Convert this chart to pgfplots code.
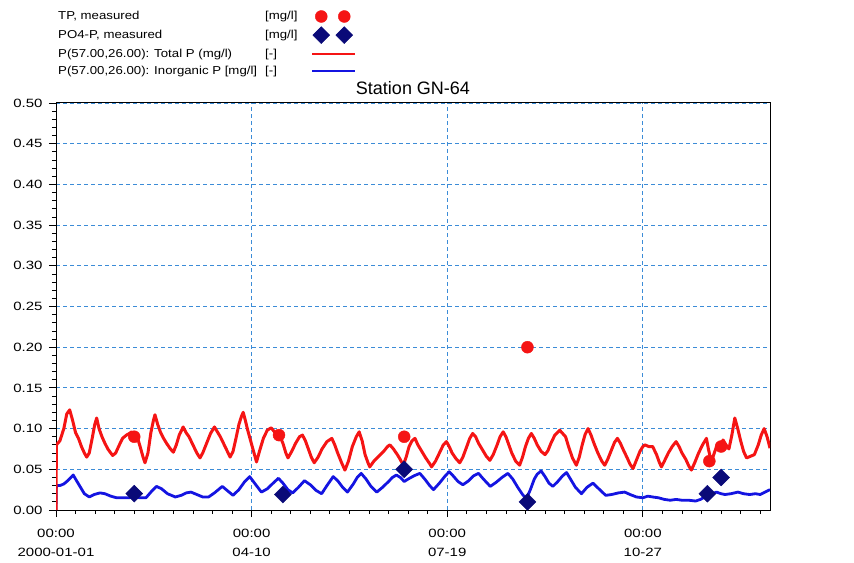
\documentclass[border=0pt]{standalone}
\usepackage{fontspec}
\setmainfont{Liberation Sans}
\newfontfamily\tickfamily[FakeStretch=1.25]{Liberation Sans}
\newfontfamily\legfamily[FakeStretch=1.15]{Liberation Sans}
\usepackage{pgfplots}
\pgfplotsset{compat=1.18}
\definecolor{gridblue}{RGB}{60,140,215}
\definecolor{tpred}{RGB}{245,20,20}
\definecolor{inblue}{RGB}{20,20,225}
\definecolor{navy}{RGB}{10,10,120}
\pgfplotsset{
  twomark legend/.style={legend image code/.code={\draw[##1] plot coordinates {(9bp,0bp) (32bp,0bp)};}},
  longline legend/.style={legend image code/.code={\draw[##1] (0bp,0bp) -- (43bp,0bp);}},
}
\begin{document}
\begin{tikzpicture}
\begin{axis}[
  at={(56bp,53bp)}, anchor=south west,
  scale only axis, width=714bp, height=407bp,
  xmin=0, xmax=365, ymin=0, ymax=0.5,
  xtick={0,100,200,300},
  xticklabels={{00:00\\2000-01-01},{00:00\\04-10},{00:00\\07-19},{00:00\\10-27}},
  minor xtick={10,20,...,360},
  ytick={0,0.05,0.1,0.15,0.2,0.25,0.3,0.35,0.4,0.45,0.5},
  minor y tick num=4,
  /pgf/number format/assume math mode=true,
  yticklabel style={/pgf/number format/fixed, /pgf/number format/fixed zerofill, /pgf/number format/precision=2,
    font=\tickfamily\fontsize{12bp}{14bp}\selectfont, xshift=-3bp},
  xticklabel style={align=center, font=\tickfamily\fontsize{12bp}{19bp}\selectfont, yshift=-9bp},
  tick align=outside, xtick pos=left, ytick pos=left,
  major tick length=7bp, minor tick length=4bp,
  tick style={black, line width=0.8bp},
  axis line style={black, line width=1bp},
  grid=major,
  major grid style={dash pattern=on 4bp off 3bp, color=gridblue, line width=0.8bp},
  title={Station GN-64},
  title style={font=\fontsize{18bp}{20bp}\selectfont, at={(0.5,1)}, anchor=base, yshift=3bp},
  legend plot pos=right, legend cell align=left,
  legend style={at={(0,1.23)}, anchor=north west, draw=none, fill=none,
    font=\legfamily\fontsize{11.5bp}{13bp}\selectfont, row sep=3.3bp, inner sep=0pt},
]
\addlegendimage{only marks, mark=*, mark size=6bp, color=tpred, twomark legend}
\addlegendentry{\makebox[207bp][l]{TP, measured}\makebox[44bp][l]{[mg/l]}}
\addlegendimage{only marks, mark=square*, mark size=6bp, mark options={rotate=45}, color=navy, twomark legend}
\addlegendentry{\makebox[207bp][l]{PO4-P, measured}\makebox[44bp][l]{[mg/l]}}
\addlegendimage{tpred, line width=2.2bp, longline legend}
\addlegendentry{\makebox[207bp][l]{P(57.00,26.00): Total P (mg/l)}\makebox[44bp][l]{[-]}}
\addlegendimage{inblue, line width=2.2bp, longline legend}
\addlegendentry{\makebox[207bp][l]{P(57.00,26.00): Inorganic P [mg/l]}\makebox[44bp][l]{[-]}}

% Inorganic P (model)
\addplot[forget plot, inblue, line width=2.8bp, line join=round] coordinates {
(0,0.000) (0.2,0.030) (2,0.030) (4,0.032) (6,0.036) (8.8,0.043) (10.5,0.036) (12.5,0.028)
(14.5,0.020) (17,0.016) (19.5,0.019) (22.5,0.021) (25,0.020) (28,0.017) (31,0.015) (34,0.015)
(37,0.015) (40,0.016) (43,0.015) (46,0.015) (48.5,0.022) (51.4,0.029) (54,0.026) (57,0.020)
(61,0.016) (64,0.018) (66.5,0.021) (69,0.022) (72,0.019) (75,0.016) (78,0.016) (81,0.021)
(85,0.029) (87.5,0.024) (90.5,0.018) (93.5,0.025) (96.5,0.035) (99,0.041) (101.5,0.033)
(105,0.022) (108,0.026) (111,0.033) (113.7,0.039) (116,0.033) (118.5,0.025) (121,0.021)
(124,0.028) (127,0.036) (130,0.031) (133,0.024) (135.8,0.020) (138.5,0.030) (141.7,0.041)
(144,0.036) (146.5,0.028) (149,0.022) (152,0.032) (154,0.040) (156,0.045) (158.5,0.038)
(161,0.029) (164,0.022) (167,0.028) (170,0.035) (172,0.040) (174,0.043) (176,0.040)
(178,0.035) (180,0.038) (183,0.042) (186,0.045) (188.5,0.038) (191,0.030) (193,0.025)
(196,0.033) (199,0.042) (201,0.047) (203,0.042) (205.5,0.035) (208,0.031) (211,0.036)
(213.5,0.042) (216,0.045) (218.5,0.038) (222,0.029) (225,0.034) (228,0.040) (231,0.045)
(233.5,0.038) (236,0.028) (238.5,0.019) (240.5,0.014) (242.5,0.025) (244.5,0.038)
(246,0.044) (248,0.048) (250,0.041) (252,0.033) (254,0.029) (256.5,0.035) (259,0.042)
(261,0.046) (263,0.038) (265.5,0.028) (268.6,0.020) (271.5,0.028) (274.5,0.033)
(277.5,0.026) (281,0.018) (284,0.019) (287.5,0.021) (290.7,0.022) (293.5,0.019)
(296.7,0.016) (300,0.015) (302.5,0.017) (305,0.016) (308,0.015) (311,0.013) (314,0.012)
(317,0.013) (320,0.012) (323.5,0.012) (327,0.011) (329.5,0.013) (331.6,0.016) (334.5,0.019)
(337.6,0.022) (340,0.020) (342,0.019) (345,0.020) (348.6,0.022) (351.5,0.020) (354.6,0.019)
(357.5,0.020) (360,0.019) (362.5,0.022) (365,0.025)
};

% Total P (model)
\addplot[forget plot, tpred, line width=3bp, line join=round] coordinates {
(0,0.000) (0.2,0.080) (2,0.085) (4,0.100) (5.5,0.118) (7,0.123) (8.5,0.110) (10,0.095)
(11.5,0.088) (13,0.078) (14.5,0.070) (15.7,0.065) (17,0.070) (18.5,0.088) (19.8,0.105)
(20.8,0.113) (22,0.100) (23.5,0.090) (25,0.082) (26.5,0.075) (28,0.070) (29,0.067)
(30.5,0.070) (32,0.078) (34,0.088) (36,0.092) (37.5,0.094) (38.7,0.096) (40,0.092)
(41.5,0.090) (43,0.078) (44.5,0.065) (45.5,0.058) (47,0.070) (48.5,0.095) (49.8,0.110)
(50.6,0.117) (52,0.105) (53.5,0.095) (55,0.088) (56.5,0.082) (58.5,0.075) (60,0.071)
(61.5,0.080) (63,0.092) (65,0.102) (66.5,0.095) (68,0.090) (70,0.080) (72,0.070)
(73.6,0.064) (75,0.070) (77,0.082) (79,0.094) (81,0.102) (82.5,0.096) (84,0.090)
(86,0.080) (88,0.070) (89,0.065) (90.5,0.072) (92,0.088) (93.5,0.105) (94.8,0.115)
(95.7,0.120) (96.8,0.110) (98,0.098) (99.5,0.085) (101,0.072) (102.5,0.059) (104,0.072)
(106,0.088) (108,0.098) (110,0.101) (112,0.095) (114,0.093) (116,0.082) (117.5,0.070)
(118.6,0.064) (120.5,0.072) (122.5,0.082) (124.5,0.090) (126,0.092) (127.5,0.085)
(129,0.075) (130.5,0.065) (132,0.058) (134,0.065) (136,0.075) (138.5,0.084) (141,0.088)
(142.5,0.080) (144,0.070) (146,0.058) (147.7,0.049) (149.5,0.060) (151.5,0.078)
(153.5,0.090) (155,0.096) (156.5,0.085) (158,0.068) (159.5,0.058) (160.4,0.053)
(162.5,0.060) (165,0.066) (167.5,0.072) (169.5,0.078) (170.7,0.080) (172.5,0.075)
(174.5,0.068) (176,0.062) (177.5,0.055) (179,0.065) (180.5,0.078) (182,0.085) (183.5,0.088)
(185,0.080) (187,0.072) (189,0.064) (191,0.057) (192,0.053) (194,0.060) (196,0.070)
(198,0.080) (199.6,0.084) (201,0.078) (202.5,0.070) (204.5,0.063) (206.4,0.058) (208,0.065)
(210,0.078) (211.5,0.088) (213,0.094) (214.5,0.090) (216,0.082) (218,0.074) (220,0.066)
(221.8,0.061) (223.5,0.068) (225.5,0.080) (227,0.090) (228.6,0.096) (230,0.090)
(231.5,0.080) (233,0.070) (235,0.060) (237,0.055) (238.5,0.065) (240,0.078) (241.5,0.088)
(243,0.094) (244.5,0.088) (246,0.080) (248,0.072) (250,0.068) (251.5,0.073) (253,0.082)
(255,0.092) (257.5,0.098) (259,0.094) (260.5,0.090) (262,0.078) (264,0.064) (266,0.055)
(267.5,0.065) (269,0.080) (270.5,0.093) (272,0.100) (273.5,0.092) (275,0.082) (277,0.070)
(279,0.060) (280.5,0.055) (282,0.062) (284,0.074) (285.5,0.083) (287,0.088) (288.5,0.082)
(290,0.074) (292,0.064) (293.5,0.056) (295,0.051) (296.5,0.060) (298.5,0.072) (300,0.078)
(301,0.080) (303,0.078) (305,0.078) (307,0.068) (308.5,0.058) (309.5,0.053) (311,0.060)
(313,0.070) (315,0.078) (317,0.084) (318.5,0.078) (320,0.070) (322,0.062) (323.5,0.054)
(324.8,0.049) (326.5,0.058) (328.5,0.070) (330.5,0.080) (332.5,0.088) (333.5,0.075)
(335,0.059) (336.5,0.070) (338,0.080) (339.5,0.078) (341,0.086) (342.5,0.080) (344,0.075)
(345.5,0.092) (347,0.113) (348.5,0.100) (350,0.085) (351.5,0.072) (353,0.064) (355,0.066)
(357,0.068) (359,0.080) (360.5,0.092) (362,0.100) (363.5,0.090) (365,0.076)
};

% TP measured
\addplot[forget plot, only marks, mark=*, mark size=6bp, color=tpred] coordinates {
(40,0.090) (114,0.092) (178,0.090) (241,0.200) (334,0.060) (340,0.078)
};
% PO4-P measured
\addplot[forget plot, only marks, mark=square*, mark size=6bp, mark options={rotate=45}, color=navy] coordinates {
(40,0.020) (116,0.019) (178,0.050) (241,0.010) (333,0.020) (340,0.040)
};
\end{axis}
\pgfresetboundingbox
\useasboundingbox (0,0) rectangle (854bp,563bp);
\end{tikzpicture}
\end{document}
